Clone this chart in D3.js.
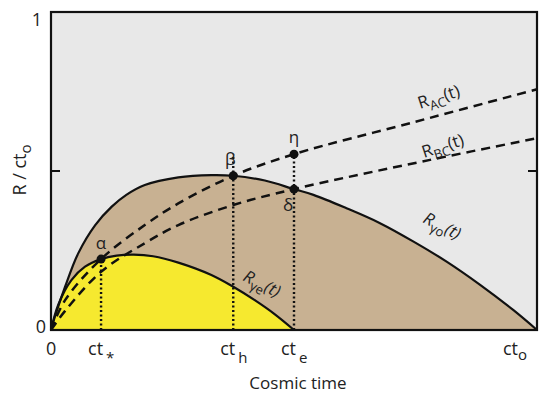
<!DOCTYPE html>
<html>
<head>
<meta charset="utf-8">
<script src="https://cdn.jsdelivr.net/npm/d3@7"></script>
<style>
  body { margin: 0; background: #fff; }
  text { font-family: "Open Sans", "DejaVu Sans", sans-serif; fill: #222; }
</style>
</head>
<body>
<svg width="541" height="396"></svg>
<script>
// curves, t in units of t_o, R in units of ct_o
var rGammaO = [[0,0],[0.008,0.042],[0.029,0.136],[0.056,0.241],[0.091,0.33],[0.125,0.388],[0.155,0.425],[0.193,0.456],[0.262,0.48],[0.33,0.487],[0.375,0.485],[0.44,0.47],[0.5,0.443],[0.54,0.425],[0.608,0.383],[0.677,0.336],[0.746,0.278],[0.814,0.215],[0.883,0.142],[0.951,0.063],[1,0]];
var rGammaE = [[0,0],[0.015,0.08],[0.042,0.157],[0.07,0.199],[0.103,0.223],[0.135,0.234],[0.17,0.237],[0.21,0.232],[0.262,0.212],[0.33,0.173],[0.375,0.136],[0.42,0.093],[0.46,0.05],[0.5,0]];
var rAC = [[0,0],[0.029,0.094],[0.103,0.223],[0.193,0.33],[0.262,0.398],[0.375,0.485],[0.5,0.553],[0.75,0.655],[1,0.757]];
var rBC = [[0,0],[0.029,0.06],[0.103,0.183],[0.193,0.273],[0.262,0.33],[0.375,0.393],[0.5,0.443],[0.78,0.535],[1,0.603]];

var markT = [0.103, 0.375, 0.5];          // ct_*, ct_h, ct_e
var markTop = [0.223, 0.553, 0.553];
var points = [
  {name: 'α', t: 0.103, r: 0.223, dx: 0, dy: -10},
  {name: 'β', t: 0.375, r: 0.485, dx: -3, dy: -11},
  {name: 'η', t: 0.5, r: 0.553, dx: 0, dy: -11},
  {name: 'δ', t: 0.5, r: 0.443, dx: -6, dy: 22}
];
var xTicks = [
  {t: 0, base: '0', sub: ''},
  {t: 0.103, base: 'ct', sub: '*'},
  {t: 0.375, base: 'ct', sub: 'h'},
  {t: 0.5, base: 'ct', sub: 'e'},
  {t: 1, base: 'ct', sub: 'o'}
];

const svg = d3.select('svg');
var x = d3.scaleLinear().domain([0, 1]).range([51, 537]);
var y = d3.scaleLinear().domain([0, 1]).range([330, 12]);

var curve = d3.curveCatmullRom.alpha(0.5);
var line = d3.line().x(d => x(d[0])).y(d => y(d[1])).curve(curve);
var area = d3.area().x(d => x(d[0])).y0(y(0)).y1(d => y(d[1])).curve(curve);

// background
svg.append('rect')
  .attr('x', x(0)).attr('y', y(1))
  .attr('width', x(1) - x(0)).attr('height', y(0) - y(1))
  .style('fill', '#e8e8e8');

svg.append('path').datum(rGammaO).attr('d', area).style('fill', '#c8b192');
svg.append('path').datum(rGammaE).attr('d', area).style('fill', '#f6e92f');

// dotted verticals
markT.forEach(function(t, i) {
  svg.append('line')
    .attr('x1', x(t)).attr('x2', x(t))
    .attr('y1', y(0)).attr('y2', y(markTop[i]))
    .style('stroke', '#111').style('stroke-width', 2.4)
    .style('stroke-dasharray', '2,2.5');
});

// dashed
[rAC, rBC].forEach(function(d) {
  svg.append('path').datum(d).attr('d', line)
    .style('fill', 'none').style('stroke', '#111')
    .style('stroke-width', 2.5).style('stroke-dasharray', '9,6');
});

// solid curves
[rGammaO, rGammaE].forEach(function(d) {
  svg.append('path').datum(d).attr('d', line)
    .style('fill', 'none').style('stroke', '#111').style('stroke-width', 2.2);
});

// frame
svg.append('rect')
  .attr('x', x(0)).attr('y', y(1))
  .attr('width', x(1) - x(0)).attr('height', y(0) - y(1))
  .style('fill', 'none').style('stroke', '#111').style('stroke-width', 2.2);

// ticks at 0.5 on both sides
svg.append('line').attr('x1', x(0)).attr('x2', x(0) + 9).attr('y1', y(0.5)).attr('y2', y(0.5))
  .style('stroke', '#111').style('stroke-width', 2);
svg.append('line').attr('x1', x(1)).attr('x2', x(1) - 9).attr('y1', y(0.5)).attr('y2', y(0.5))
  .style('stroke', '#111').style('stroke-width', 2);

// points
svg.selectAll('circle.pt').data(points).enter().append('circle')
  .attr('cx', d => x(d.t)).attr('cy', d => y(d.r)).attr('r', 4.5)
  .style('fill', '#111');
svg.selectAll('text.pt').data(points).enter().append('text')
  .attr('x', d => x(d.t) + d.dx).attr('y', d => y(d.r) + d.dy)
  .attr('text-anchor', 'middle')
  .style('font-size', '17px').text(d => d.name);

// y labels
svg.append('text').attr('x', 42).attr('y', y(1) + 14).attr('text-anchor', 'end')
  .style('font-size', '18px').text('1');
svg.append('text').attr('x', 46).attr('y', y(0) + 3).attr('text-anchor', 'end')
  .style('font-size', '18px').text('0');

// x tick labels
xTicks.forEach(function(d) {
  var px = x(d.t) - (d.sub ? 13 : 5);
  if (d.t === 1) px = x(d.t) - 34;
  var tx = svg.append('text').attr('x', px).attr('y', 355)
    .style('font-size', '18px');
  tx.append('tspan').text(d.base);
  if (d.sub) tx.append('tspan').attr('dx', d.t === 1 ? 0 : 3).attr('dy', d.t === 1 ? 5 : 8)
    .style('font-size', '15px').text(d.sub);
});

svg.append('text').attr('x', 298).attr('y', 389).attr('text-anchor', 'middle')
  .style('font-size', '17px').text('Cosmic time');

var yl = svg.append('text').attr('transform', 'translate(26,' + 170 + ') rotate(-90)')
  .attr('text-anchor', 'middle').style('font-size', '18px');
yl.append('tspan').text('R / ct');
yl.append('tspan').attr('dy', 5).style('font-size', '15px').text('o');

// curve labels
function curveLabel(px, py, angle, base, sub, italic) {
  var t = svg.append('text').attr('transform', 'translate(' + px + ',' + py + ') rotate(' + angle + ')')
    .style('font-size', '17px');
  t.append('tspan').style('font-style', italic ? 'italic' : 'normal').text(base);
  t.append('tspan').attr('dy', 5).style('font-size', '13px').text(sub);
  t.append('tspan').attr('dy', -5).style('font-style', italic ? 'italic' : 'normal').text('(t)');
}
curveLabel(420, 109, -18, 'R', 'AC', false);
curveLabel(424, 158, -18, 'R', 'BC', false);
curveLabel(422, 222, 27, 'R', 'γo', true);
curveLabel(242, 280, 27, 'R', 'γe', true);
</script>
</body>
</html>
